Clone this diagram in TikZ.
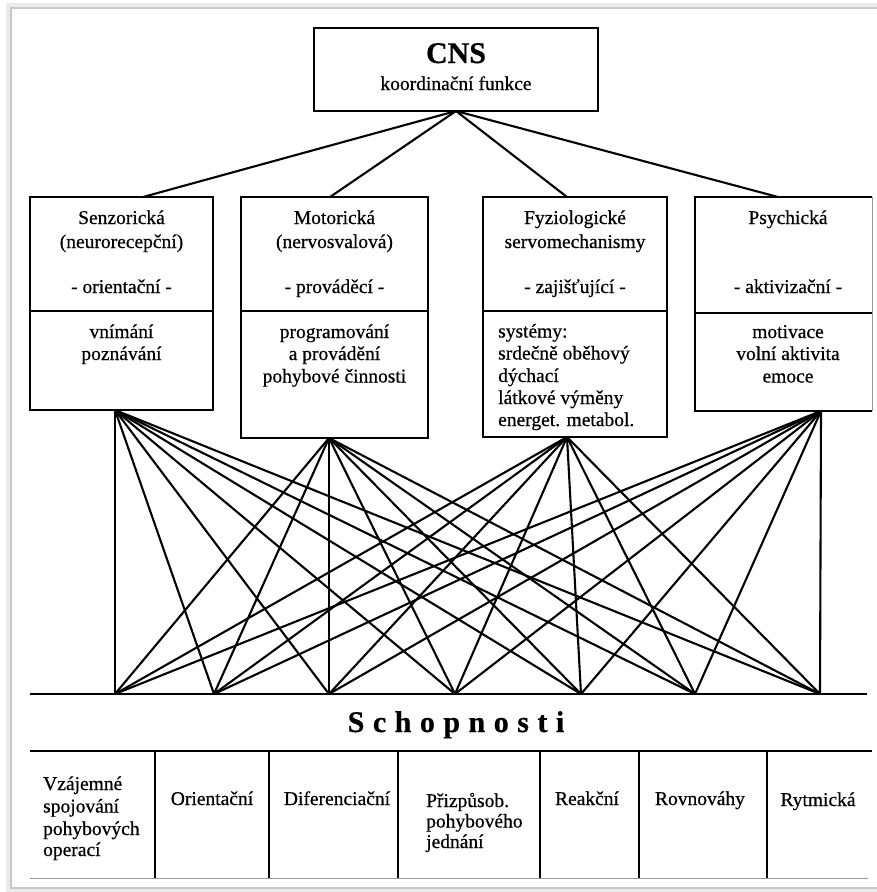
\documentclass[tikz,border=0pt]{standalone}
\usepackage{fontspec}
\setmainfont[FakeBold=0.6]{Liberation Serif}
\begin{document}
\begin{tikzpicture}[x=1pt,y=-1pt,
  box/.style={draw, line width=2.4pt, inner sep=0pt, outer sep=0pt},
  divline/.style={line width=2.4pt},
  lbl/.style={font=\fontsize{19.5}{22}\selectfont, inner sep=0pt, anchor=base},
  lbll/.style={lbl, anchor=base west},
  lnk/.style={line width=2.1pt},
  rule/.style={line width=2.5pt},
  thinrule/.style={line width=0.9pt, black!40},
]
\useasboundingbox (0,0) rectangle (877,892);
\fill[white] (0,0) rectangle (877,892);
% frame
\draw[black!8, line width=5pt] (877,5.5) -- (8.5,5.5) -- (8.5,890.5) -- (877,890.5);
\draw[black!22, line width=1.2pt] (877,8) -- (11,8) -- (11,888) -- (877,888);

% CNS box
\node[box, minimum width=284pt, minimum height=83pt] (cns) at (456,69.5) {};
\node[lbl, font=\fontsize{30}{32}\selectfont\bfseries] (cnst) at (456,63) {CNS};
\node[lbl] (cnsf) at (456,90) {koordinační funkce};

% four boxes
\node[box, minimum width=183pt, minimum height=213pt] (b1) at (121.5,303.5) {};
\node[box, minimum width=187pt, minimum height=241pt] (b2) at (334.5,317.5) {};
\node[box, minimum width=184pt, minimum height=240pt] (b3) at (575,317) {};
\coordinate (b4nw) at (695,197);
\coordinate (b4ne) at (872,197);
\coordinate (b4sw) at (695,411);
\coordinate (b4se) at (872,411);
\draw[divline] (b4ne) -- (b4nw) -- (b4sw) -- (b4se);
\draw[thinrule] (b4ne) -- (b4se);

% dividers
\draw[divline] (b1.west |- 0,311) -- (b1.east |- 0,311);
\draw[divline] (b2.west |- 0,311) -- (b2.east |- 0,311);
\draw[divline] (b3.west |- 0,311) -- (b3.east |- 0,311);
\draw[divline] (b4nw |- 0,313) -- (b4ne |- 0,313);

% CNS connectors
\coordinate (t1) at (143,197);
\coordinate (t2) at (330,197);
\coordinate (t3) at (567,197);
\coordinate (t4) at (778,197);
\coordinate (cs) at (456,111);
\foreach \i in {1,...,4} \draw[lnk] (cs) -- (t\i);

% box texts
\node[lbl] (a1) at (121.5,224) {Senzorická};
\node[lbl] (a2) at (121.5,248) {(neurorecepční)};
\node[lbl] (a3) at (121.5,293) {- orientační -};
\node[lbl] (a4) at (121.5,338) {vnímání};
\node[lbl] (a5) at (121.5,360) {poznávání};

\node[lbl] (m1) at (334.5,224) {Motorická};
\node[lbl] (m2) at (334.5,248) {(nervosvalová)};
\node[lbl] (m3) at (334.5,293) {- prováděcí -};
\node[lbl] (m4) at (334.5,338) {programování};
\node[lbl] (m5) at (334.5,360) {a provádění};
\node[lbl] (m6) at (334.5,382.5) {pohybové činnosti};

\node[lbl] (f1) at (575,224) {Fyziologické};
\node[lbl] (f2) at (575,248) {servomechanismy};
\node[lbl] (f3) at (575,293) {- zajišťující -};
\node[lbll] (f4) at (498,337.5) {systémy:};
\node[lbll] (f5) at (498,359.5) {srdečně oběhový};
\node[lbll] (f6) at (498,382) {dýchací};
\node[lbll] (f7) at (498,404) {látkové výměny};
\node[lbll] (f8) at (498,426) {energet. metabol.};

\node[lbl] (p1) at (788,224) {Psychická};
\node[lbl] (p3) at (788,293) {- aktivizační -};
\node[lbl] (p4) at (788,338) {motivace};
\node[lbl] (p5) at (788,360) {volní aktivita};
\node[lbl] (p6) at (788,382.5) {emoce};

% fan connectors
\coordinate (s1) at (115,410);
\coordinate (s2) at (329,438);
\coordinate (s3) at (567,437);
\coordinate (s4) at (821,411);
\coordinate (c1) at (115,694);
\coordinate (c2) at (214,694);
\coordinate (c3) at (329,694);
\coordinate (c4) at (455,694);
\coordinate (c5) at (581,694);
\coordinate (c6) at (695,694);
\coordinate (c7) at (820,694);
\foreach \s in {1,...,4}
  \foreach \t in {1,...,7}
    \draw[lnk] (s\s) -- (c\t);

% baseline
\coordinate (bl) at (30,694);
\coordinate (br) at (867,694);
\draw[rule] (bl) -- (br);

\node[lbl, font=\fontsize{30}{32}\selectfont\bfseries] (sch) at (456,732)
  {S\kern8.5pt c\kern8.5pt h\kern8.5pt o\kern8.5pt p\kern8.5pt n\kern8.5pt o\kern8.5pt s\kern8.5pt t\kern8.5pt i};

% table
\coordinate (tl) at (30,751);
\coordinate (tr) at (872,751);
\coordinate (bbl) at (30,878);
\coordinate (bbr) at (868,878);
\draw[rule] (tl) -- (tr);
\draw[thinrule] (bbl) -- (bbr);
\foreach \x in {155,269,398,540,639,767}
  \draw[divline] (\x,751) -- (\x,878);

\node[lbll] (q1) at (43,790) {Vzájemné};
\node[lbll] (q2) at (43,812.5) {spojování};
\node[lbll] (q3) at (43,835) {pohybových};
\node[lbll] (q4) at (43,856) {operací};
\node[lbl] (q5) at (212,805) {Orientační};
\node[lbl] (q6) at (337,805) {Diferenciační};
\node[lbll] (q7) at (426,807) {Přizpůsob.};
\node[lbll] (q8) at (426,827.5) {pohybového};
\node[lbll] (q9) at (426,848) {jednání};
\node[lbl] (q10) at (587,805) {Reakční};
\node[lbl] (q11) at (700,805) {Rovnováhy};
\node[lbl] (q12) at (818,806) {Rytmická};
\end{tikzpicture}
\end{document}
